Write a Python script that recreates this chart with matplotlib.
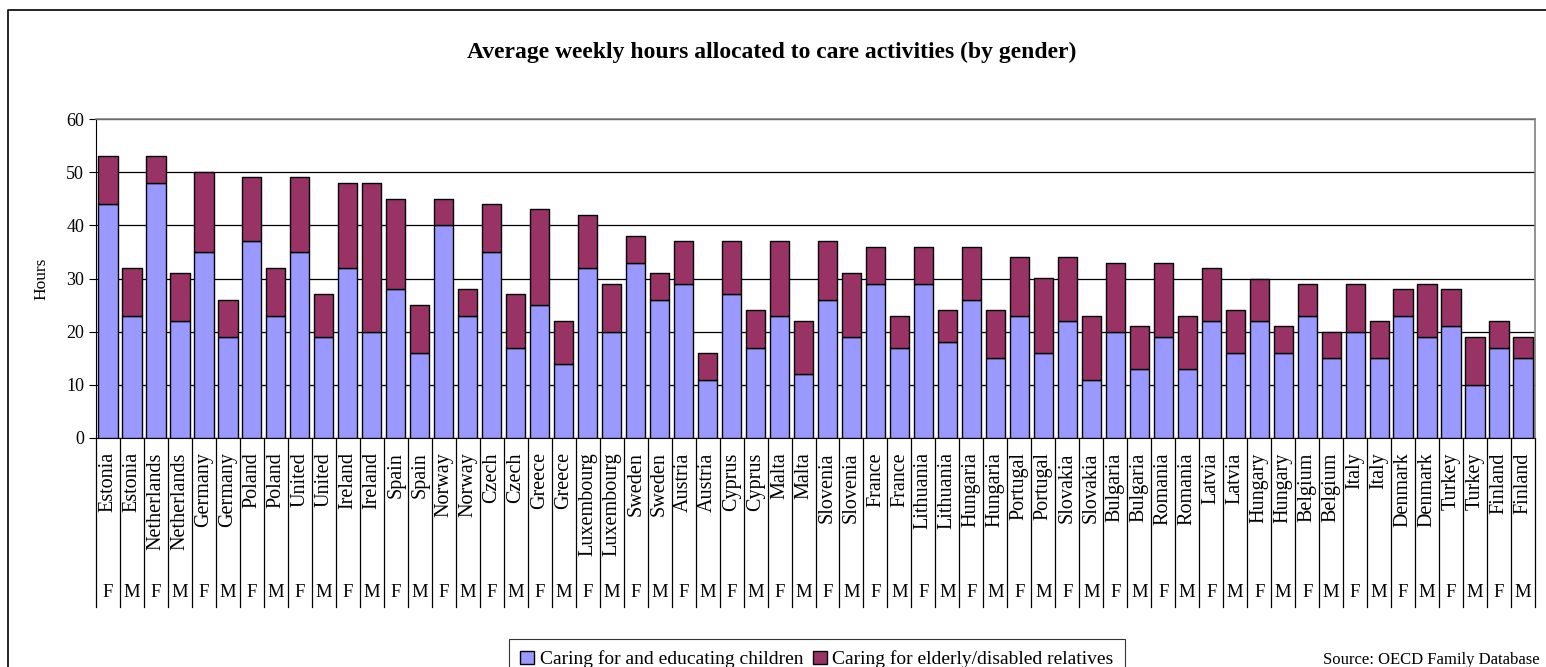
import matplotlib
matplotlib.use("Agg")
import matplotlib.pyplot as plt
import numpy as np
from matplotlib.lines import Line2D

plt.rcParams['font.family'] = ['Liberation Serif', 'DejaVu Serif']

countries = ["Estonia", "Netherlands", "Germany", "Poland", "United", "Ireland", "Spain",
             "Norway", "Czech", "Greece", "Luxembourg", "Sweden", "Austria", "Cyprus",
             "Malta", "Slovenia", "France", "Lithuania", "Hungaria", "Portugal", "Slovakia",
             "Bulgaria", "Romania", "Latvia", "Hungary", "Belgium", "Italy", "Denmark",
             "Turkey", "Finland"]
genders = ["F", "M"]

# Hours caring for and educating children (F, M per country)
children = [44, 23, 48, 22, 35, 19, 37, 23, 35, 19, 32, 20, 28, 16,
            40, 23, 35, 17, 25, 14, 32, 20, 33, 26, 29, 11, 27, 17,
            23, 12, 26, 19, 29, 17, 29, 18, 26, 15, 23, 16, 22, 11,
            20, 13, 19, 13, 22, 16, 22, 16, 23, 15, 20, 15, 23, 19,
            21, 10, 17, 15]
# Total hours (children + elderly/disabled relatives)
totals = [53, 32, 53, 31, 50, 26, 49, 32, 49, 27, 48, 48, 45, 25,
          45, 28, 44, 27, 43, 22, 42, 29, 38, 31, 37, 16, 37, 24,
          37, 22, 37, 31, 36, 23, 36, 24, 36, 24, 34, 30, 34, 23,
          33, 21, 33, 23, 32, 24, 30, 21, 29, 20, 29, 22, 28, 29,
          28, 19, 22, 19]
elderly = [t - c for t, c in zip(totals, children)]

labels_country = [c for c in countries for _ in genders]
labels_gender = [g for _ in countries for g in genders]

W, H = 1546, 667
fig = plt.figure(figsize=(W / 100, H / 100), dpi=100)
ax = fig.add_axes([96 / W, 1 - 438 / H, (1535 - 96) / W, (438 - 119) / H])

x = np.arange(len(children))
blue = "#9999FF"
maroon = "#993366"
ax.bar(x, children, width=0.8, color=blue, edgecolor="black", linewidth=1.0,
       label="Caring for and educating children", zorder=3)
ax.bar(x, elderly, bottom=children, width=0.8, color=maroon, edgecolor="black",
       linewidth=1.0, label="Caring for elderly/disabled relatives", zorder=3)

ax.set_xlim(-0.5, len(x) - 0.5)
ax.set_ylim(0, 60)
ax.set_yticks(range(0, 61, 10))
ax.yaxis.grid(True, color="black", linewidth=0.9, zorder=0)
ax.tick_params(axis='y', labelsize=13, length=5, direction='out', width=0.8)
ax.set_xticks([])
for s in ['top', 'right']:
    ax.spines[s].set_color('#808080')
    ax.spines[s].set_linewidth(1.2)
ax.spines['left'].set_color('black')
ax.spines['bottom'].set_color('black')

ax.set_ylabel("Hours", fontsize=12.5, labelpad=12)

# Category labels and separators
trans = ax.get_xaxis_transform()
for i in range(len(x) + 1):
    ax.plot([i - 0.5, i - 0.5], [0, -0.53], transform=trans, color='black',
            linewidth=0.9, clip_on=False)
for i in x:
    ax.text(i, -0.045, labels_country[i], transform=trans, rotation=90,
            ha='center', va='top', fontsize=14.5)
    ax.text(i, -0.485, labels_gender[i], transform=trans,
            ha='center', va='center', fontsize=13.5)

fig.text(772 / W, 1 - 52 / H, "Average weekly hours allocated to care activities (by gender)",
         ha='center', va='center', fontsize=17, fontweight='bold')

leg = fig.legend(loc='upper center', bbox_to_anchor=(817 / W, 1 - 629 / H), ncol=2,
                 fontsize=14, frameon=True, fancybox=False, edgecolor='black',
                 handlelength=0.7, handleheight=0.7, handletextpad=0.3,
                 columnspacing=0.5, borderpad=0.6)
leg.get_frame().set_linewidth(0.8)

fig.text(1540 / W, 1 - 660 / H, "Source: OECD Family Database", ha='right', va='center',
         fontsize=12)

# Outer chart border (left and top edges visible)
fig.add_artist(Line2D([8 / W, 8 / W, 1.0], [0.0, 1 - 10 / H, 1 - 10 / H],
                      transform=fig.transFigure, color='black', linewidth=1.2))

fig.savefig("out.png", dpi=100)
